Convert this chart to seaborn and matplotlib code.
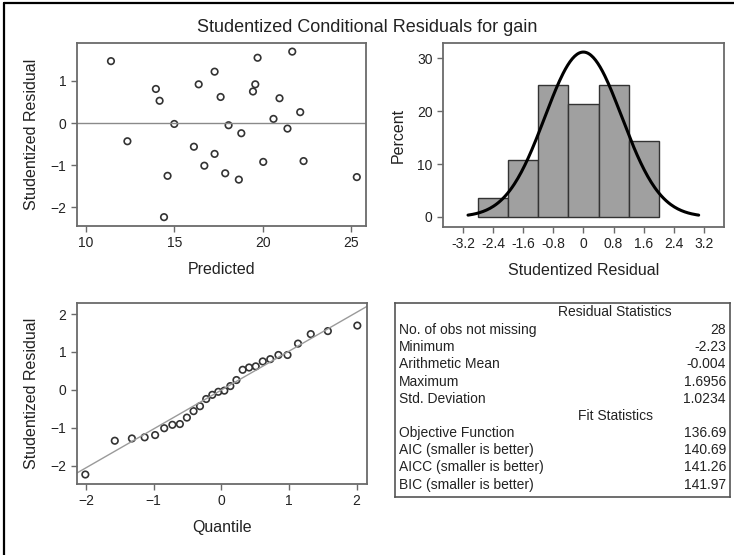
import matplotlib
matplotlib.use('Agg')
import matplotlib.pyplot as plt
import seaborn as sns
import numpy as np
import pandas as pd
from statistics import NormalDist
from matplotlib.lines import Line2D

# data
predicted = [11.41, 12.34, 13.95, 14.16, 14.99, 14.61, 14.41, 16.10, 16.37, 16.69,
             17.27, 17.27, 17.61, 17.87, 18.06, 18.64, 18.78, 19.70, 19.57, 19.44,
             20.02, 20.60, 20.94, 21.39, 21.66, 22.11, 22.30, 25.31]
residual = [1.47, -0.43, 0.81, 0.53, -0.02, -1.25, -2.23, -0.56, 0.92, -1.01,
            1.22, -0.73, 0.62, -1.19, -0.05, -1.34, -0.24, 1.55, 0.92, 0.75,
            -0.92, 0.10, 0.59, -0.13, 1.6956, 0.26, -0.90, -1.28]
bin_edges = [-2.8, -2.0, -1.2, -0.4, 0.4, 1.2, 2.0]
hist_ticks = [-3.2, -2.4, -1.6, -0.8, 0, 0.8, 1.6, 2.4, 3.2]
hist_ticklabels = ['-3.2', '-2.4', '-1.6', '-0.8', '0', '0.8', '1.6', '2.4', '3.2']

res_mean = -0.004
res_sd = 1.0234

stat_labels = ['No. of obs not missing', 'Minimum', 'Arithmetic Mean', 'Maximum', 'Std. Deviation']
stat_values = ['28', '-2.23', '-0.004', '1.6956', '1.0234']
fit_labels = ['Objective Function', 'AIC (smaller is better)', 'AICC (smaller is better)', 'BIC (smaller is better)']
fit_values = ['136.69', '140.69', '141.26', '141.97']

df = pd.DataFrame({'Predicted': predicted, 'Residual': residual})

sns.set_style('white')
plt.rcParams['font.family'] = ['Liberation Sans', 'DejaVu Sans']
txt = '#222222'
spine_c = '#6a6a6a'

W, H = 734, 555
fig = plt.figure(figsize=(W / 100, H / 100), dpi=100)


def px_axes(x0, y0, x1, y1):
    return fig.add_axes([x0 / W, (H - y1) / H, (x1 - x0) / W, (y1 - y0) / H])


def style(ax):
    for s in ax.spines.values():
        s.set_color(spine_c)
        s.set_linewidth(1.3)
    ax.tick_params(direction='out', length=4, width=1, color=spine_c,
                   labelsize=10, labelcolor=txt, left=True, bottom=True)


# outer border (top and left)
fig.add_artist(Line2D([4 / W, 4 / W], [0, 1 - 3 / H], color='black', lw=1.6, transform=fig.transFigure))
fig.add_artist(Line2D([4 / W, 1], [1 - 3 / H, 1 - 3 / H], color='black', lw=1.6, transform=fig.transFigure))

fig.text(367 / W, 1 - 27 / H, 'Studentized Conditional Residuals for gain',
         ha='center', va='center', fontsize=13, color=txt)

# residual vs predicted
ax1 = px_axes(77, 43, 366, 226)
ax1.axhline(0, color='#8a8a8a', lw=1)
sns.scatterplot(data=df, x='Predicted', y='Residual', ax=ax1, marker='o', s=22,
                fc='none', ec='#333333', linewidth=1.2)
ax1.set_xlim(9.49, 25.83)
ax1.set_ylim(-2.44, 1.9)
ax1.set_xticks([10, 15, 20, 25])
ax1.set_yticks([-2, -1, 0, 1])
ax1.set_xlabel('Predicted', fontsize=11.5, color=txt, labelpad=8)
ax1.set_ylabel('Studentized Residual', fontsize=11.5, color=txt, labelpad=8)
style(ax1)

# histogram
ax2 = px_axes(443, 43, 724, 227)
sns.histplot(x=residual, bins=bin_edges, stat='percent', ax=ax2, color='#a0a0a0',
             edgecolor='#333333', linewidth=1, alpha=1)
xs = np.linspace(res_mean - 3 * res_sd, res_mean + 3 * res_sd, 200)
dens = np.array([NormalDist(res_mean, res_sd).pdf(v) for v in xs]) * 0.8 * 100
sns.lineplot(x=xs, y=dens, ax=ax2, color='black', lw=2.2)
ax2.set_xlim(-3.74, 3.74)
ax2.set_ylim(-1.9, 32.9)
ax2.set_xticks(hist_ticks)
ax2.set_xticklabels(hist_ticklabels)
ax2.set_yticks([0, 10, 20, 30])
ax2.set_xlabel('Studentized Residual', fontsize=11.5, color=txt, labelpad=8)
ax2.set_ylabel('Percent', fontsize=11.5, color=txt, labelpad=8)
style(ax2)

# normal quantile plot
ax3 = px_axes(77, 303, 367, 484)
n = len(residual)
quant = [NormalDist().inv_cdf((i - 0.375) / (n + 0.25)) for i in range(1, n + 1)]
qq = pd.DataFrame({'Quantile': quant, 'Residual': sorted(residual)})
ax3.axline((0, res_mean), slope=res_sd, color='#9a9a9a', lw=1)
sns.scatterplot(data=qq, x='Quantile', y='Residual', ax=ax3, marker='o', s=22,
                fc='none', ec='#333333', linewidth=1.2)
ax3.set_xlim(-2.135, 2.155)
ax3.set_ylim(-2.48, 2.29)
ax3.set_xticks([-2, -1, 0, 1, 2])
ax3.set_yticks([-2, -1, 0, 1, 2])
ax3.set_xlabel('Quantile', fontsize=11.5, color=txt, labelpad=8)
ax3.set_ylabel('Studentized Residual', fontsize=11.5, color=txt, labelpad=8)
style(ax3)

# statistics table
ax4 = px_axes(395, 303, 730, 497)
ax4.set_xticks([])
ax4.set_yticks([])
for s in ax4.spines.values():
    s.set_color('#555555')
    s.set_linewidth(1.2)


def row_y(py):
    return (497 - py) / 194


lx = (399 - 395) / 335
rx = (726 - 395) / 335
hx = (615 - 395) / 335
ax4.text(hx, row_y(312), 'Residual Statistics', ha='center', va='center', fontsize=10, color=txt)
for i, (lab, val) in enumerate(zip(stat_labels, stat_values)):
    y = row_y(330 + 17.2 * i)
    ax4.text(lx, y, lab, ha='left', va='center', fontsize=10, color=txt)
    ax4.text(rx, y, val, ha='right', va='center', fontsize=10, color=txt)
ax4.text(hx, row_y(416), 'Fit Statistics', ha='center', va='center', fontsize=10, color=txt)
for i, (lab, val) in enumerate(zip(fit_labels, fit_values)):
    y = row_y(433 + 17.2 * i)
    ax4.text(lx, y, lab, ha='left', va='center', fontsize=10, color=txt)
    ax4.text(rx, y, val, ha='right', va='center', fontsize=10, color=txt)

fig.savefig('out.png', dpi=100)
